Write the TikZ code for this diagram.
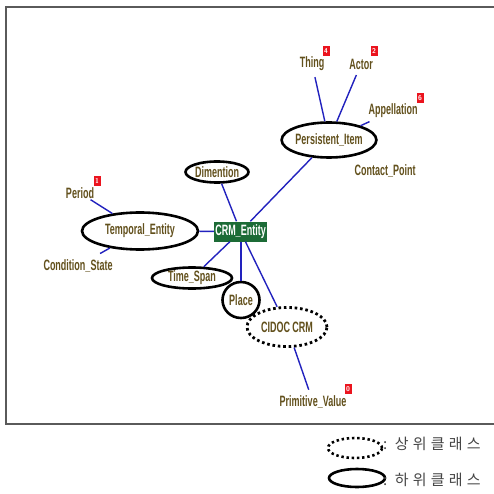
\documentclass[tikz,border=0pt]{standalone}
\usepackage{fontspec}
\usetikzlibrary{shapes.geometric}
\newfontfamily\lbl{Liberation Sans}[FakeStretch=0.6]
\newfontfamily\kor{Noto Sans CJK KR}[LetterSpace=28]
\definecolor{txtc}{RGB}{98,80,28}
\definecolor{linec}{RGB}{34,34,190}
\definecolor{crmg}{RGB}{28,107,54}
\definecolor{framec}{RGB}{90,90,90}
\definecolor{badgec}{RGB}{235,20,30}
\definecolor{legc}{RGB}{70,70,70}
\tikzset{
  lab/.style={font=\lbl\bfseries\fontsize{15}{16}\selectfont, text=txtc, inner sep=1pt},
  sub/.style={lab, ellipse, draw=black, line width=2.6pt, inner sep=0pt},
  sup/.style={lab, ellipse, draw=black, line width=2.8pt, dash pattern=on 2.6pt off 2.8pt, inner sep=0pt},
  con/.style={draw=linec, line width=1.4pt},
  badge/.style={fill=badgec, text=white, inner sep=0.4pt, minimum width=7pt, minimum height=10pt, font=\sffamily\bfseries\fontsize{7}{7}\selectfont},
  legtxt/.style={font=\kor\fontsize{15}{16}\selectfont, text=legc, anchor=west, inner sep=0pt}
}
\begin{document}
\begin{tikzpicture}[x=1pt,y=-1pt]
\useasboundingbox (0,0) rectangle (493,494);
\fill[white] (0,0) rectangle (493,494);
% frame
\draw[framec, line width=2pt] (494,7) -- (6,7) -- (6,424) -- (494,424);

% central node
\node[fill=crmg, text=white, font=\lbl\bfseries\fontsize{15}{16}\selectfont, minimum width=53pt, minimum height=20pt, inner sep=0pt] (crm) at (240.5,231.5) {CRM\_Entity};

% ellipses
\node[sub, minimum width=88pt, minimum height=35pt] (pi) at (329,140) {Persistent\_Item};
\node[sub, minimum width=63pt, minimum height=21pt] (dim) at (217,172) {Dimention};
\node[sub, minimum width=116pt, minimum height=37pt] (tmp) at (140,231) {Temporal\_Entity};
\node[sub, minimum width=80pt, minimum height=21pt] (ts) at (192,278) {Time\_Span};
\node[sub, minimum width=37pt, minimum height=36pt] (place) at (241,300) {Place};
\node[sup, minimum width=80pt, minimum height=39pt] (cidoc) at (287,327) {CIDOC CRM};

% free labels
\node[lab] (thing) at (312,64) {Thing};
\node[lab] (actor) at (361,64) {Actor};
\node[lab] (app) at (393,111) {Appellation};
\node[lab] (cp) at (385,171) {Contact\_Point};
\node[lab] (period) at (80,193) {Period};
\node[lab] (cs) at (78,266) {Condition\_State};
\node[lab] (pv) at (313,402) {Primitive\_Value};

% badges
\node[badge] (b1) at (326,51) {4};
\node[badge] (b2) at (374,51) {2};
\node[badge] (b3) at (420,98) {6};
\node[badge] (b4) at (97,181) {1};
\node[badge] (b5) at (348,389) {0};

% connectors
\draw[con, shorten <=5pt] (thing) -- (pi);
\draw[con, shorten <=5pt] (actor) -- (pi);
\draw[con, shorten >=6pt] (pi) -- (app);
\draw[con] (pi) -- (crm);
\draw[con] (dim) -- (crm);
\draw[con] (period) -- (tmp);
\draw[con, shorten >=10pt] (tmp) -- (cs);
\draw[con] (tmp) -- (crm);
\draw[con] (crm) -- (ts);
\draw[con] (crm.south -| place) -- (place);
\draw[con] (crm) -- (cidoc);
\draw[con, shorten >=5pt] (cidoc) -- (pv);

% legend
\node[ellipse, draw=black, line width=2.6pt, dash pattern=on 2.4pt off 2.8pt, minimum width=54pt, minimum height=20pt, inner sep=0pt] (lsup) at (355,448) {};
\node[ellipse, draw=black, line width=2.6pt, minimum width=56pt, minimum height=18pt, inner sep=0pt] (lsub) at (357,478) {};
\node[legtxt] (tsup) at (383,444) {:\ 상위클래스};
\node[legtxt] (tsub) at (383,480) {:\ 하위클래스};
\end{tikzpicture}
\end{document}
